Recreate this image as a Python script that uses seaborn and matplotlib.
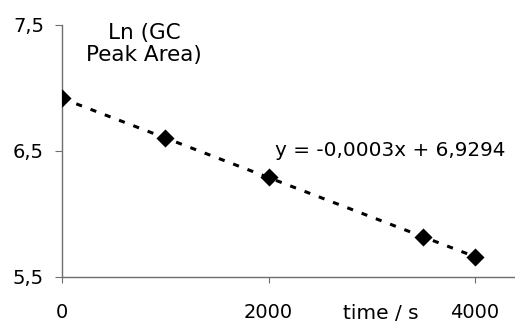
import numpy as np
import pandas as pd
import seaborn as sns
import matplotlib.pyplot as plt

# data
time_s = [0, 1000, 2000, 3500, 4000]
ln_area = [6.92, 6.60, 6.29, 5.82, 5.66]
x_ticks = [0, 2000, 4000]
x_tick_labels = ["0", "2000", "4000"]
y_ticks = [5.5, 6.5, 7.5]
y_tick_labels = ["5,5", "6,5", "7,5"]
equation = "y = -0,0003x + 6,9294"

df = pd.DataFrame({"time": time_s, "ln_area": ln_area})

sns.set_style("white")
plt.rcParams["font.family"] = ["DejaVu Sans"]
plt.rcParams["text.color"] = "black"

W, H = 515, 324
fig = plt.figure(figsize=(W / 100, H / 100), dpi=100)
ax = fig.add_axes([62 / W, 47 / H, 1 - 62 / W, 252 / H])

# scatter + least squares trend line (dashed, like the excel trendline)
sns.regplot(data=df, x="time", y="ln_area", ax=ax, ci=None, marker="D",
            scatter_kws={"s": 85, "color": "black", "linewidths": 0,
                         "zorder": 3, "alpha": 1},
            line_kws={"color": "black", "linestyle": (0, (2, 3)),
                      "linewidth": 2.2, "zorder": 2})

ax.set_xlim(0, 4387)
ax.set_ylim(5.5, 7.5)
ax.set_xticks(x_ticks)
ax.set_xticklabels(x_tick_labels)
ax.set_yticks(y_ticks)
ax.set_yticklabels(y_tick_labels)
ax.set_xlabel("")
ax.set_ylabel("")

sns.despine(ax=ax)
for s in ["left", "bottom"]:
    ax.spines[s].set_color("#6e6e6e")
    ax.spines[s].set_linewidth(1)
ax.tick_params(axis="x", bottom=True, direction="out", length=4, width=0.8,
               color="#6e6e6e", pad=15, labelsize=14, labelcolor="black")
ax.tick_params(axis="y", left=True, direction="out", length=5, width=0.8,
               color="#6e6e6e", pad=8, labelsize=14, labelcolor="black")

fig.text(144 / W, 1 - 23 / H, "Ln (GC\nPeak Area)", ha="center", va="top",
         fontsize=15.5, linespacing=1.15)
fig.text(275 / W, 1 - 150 / H, equation, ha="left", va="center", fontsize=14.4)
fig.text(381 / W, 1 / H, "time / s", ha="center", va="bottom", fontsize=14.5)

fig.savefig("out.png", dpi=100)
